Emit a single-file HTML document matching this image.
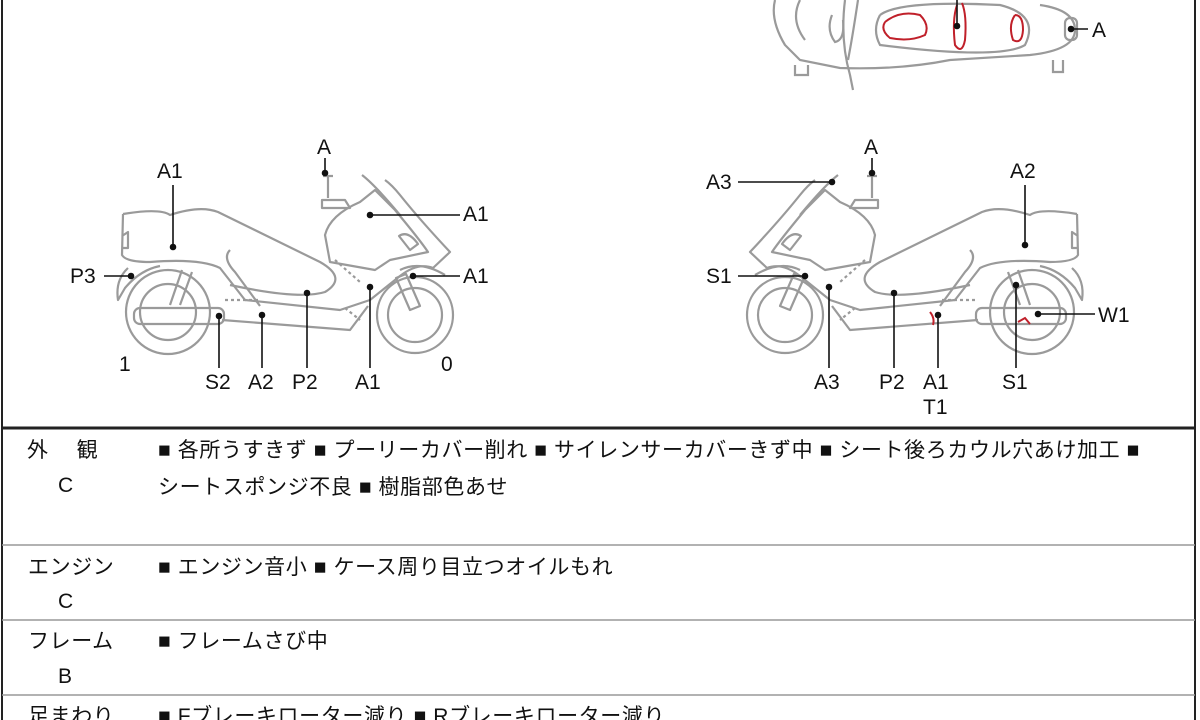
<!DOCTYPE html>
<html><head><meta charset="utf-8"><style>
body{margin:0;background:#fff;}
.wrap{position:relative;width:1200px;height:720px;overflow:hidden;font-family:"Liberation Sans","Noto Sans CJK JP",sans-serif;}
svg{position:absolute;left:0;top:0}
.t{position:absolute;font-size:21px;color:#111;white-space:nowrap;line-height:1}
.j{font-size:21px;letter-spacing:0.6px}
</style></head><body><div class="wrap">
<svg width="1200" height="720" viewBox="0 0 1200 720">
<defs>
<g id="bike" fill="none" stroke="#9a9a9a" stroke-width="2.2" stroke-linejoin="round">
 <circle cx="168" cy="312" r="42"/><circle cx="168" cy="312" r="28"/>
 <circle cx="415" cy="315" r="38"/><circle cx="415" cy="315" r="27"/>
 <rect x="134" y="308" width="90" height="16" rx="6"/>
 <path d="M182 270 L170 305 M192 272 L180 305"/>
 <path d="M123 214 Q160 208 170 215 Q200 205 218 212 L320 262 Q348 278 325 292 Q300 300 230 285"/>
 <path d="M123 214 L122 255 Q126 262 150 262 Q200 258 220 268 L245 300 L340 310 L370 300 L400 276 Q418 262 433 268 L450 252 Q420 220 400 195 Q392 185 385 180"/>
 <path d="M230 250 Q222 258 235 272 L260 306"/>
 <path d="M122 236 L128 232 L128 248 L122 248"/>
 <path d="M128 268 Q115 280 118 300 L125 288 Q140 270 160 266"/>
 <path d="M222 320 L350 330 L368 306"/>
 <path d="M325 235 Q330 215 360 202 L375 190 L395 210 Q420 240 428 252 L390 260 L375 270 L330 262 Z"/>
 <path d="M322 200 L345 200 L350 208 L322 208 Z"/>
 <path d="M328 176 L328 198 M323 176 L333 176"/>
 <path d="M362 175 Q375 185 400 215"/>
 <path d="M396 278 L410 310 L420 306 L406 274 Z"/>
 <path d="M399 236 Q408 230 418 244 L410 250 Z"/>
 <path d="M225 300 L260 300 M335 260 L360 282 M345 308 L360 320" stroke-dasharray="3 3"/>
 <path d="M400 270 Q420 260 445 275"/>
</g>
</defs>
<rect x="2" y="-5" width="1193" height="740" fill="none" stroke="#222" stroke-width="2"/>
<line x1="2" y1="428" x2="1195" y2="428" stroke="#222" stroke-width="3"/>
<line x1="2" y1="545" x2="1195" y2="545" stroke="#999" stroke-width="1.5"/>
<line x1="2" y1="620" x2="1195" y2="620" stroke="#999" stroke-width="1.5"/>
<line x1="2" y1="695" x2="1195" y2="695" stroke="#999" stroke-width="1.5"/>
<use href="#bike"/>
<use href="#bike" transform="translate(1200,0) scale(-1,1)"/>
<g fill="none" stroke="#9a9a9a" stroke-width="2.2">
 <path d="M775 0 Q770 20 785 45 L800 60 L840 68 Q900 70 950 60 L1030 55 Q1075 50 1075 30 Q1075 10 1040 5"/>
 <path d="M800 0 Q790 20 805 40 M832 15 Q826 30 835 42 Q845 40 843 20"/>
 <path d="M845 0 Q840 40 850 75 L853 90 M858 0 Q852 40 848 60"/>
 <path d="M880 15 Q900 0 1000 5 Q1040 15 1025 45 Q1000 60 880 45 Q872 30 880 15"/>
 <path d="M795 65 L795 75 L808 75 L808 65 M1053 60 L1053 72 L1063 72 L1063 60"/>
 <rect x="1065" y="18" width="12" height="22" rx="5"/>
</g>
<g fill="none" stroke="#c0202a" stroke-width="2">
 <path d="M885 22 Q900 10 920 15 Q930 25 925 35 Q910 42 890 38 Q880 30 885 22"/>
 <path d="M957 5 Q952 20 955 45 Q962 55 965 40 Q967 15 962 3"/>
 <path d="M1015 15 Q1008 25 1013 40 Q1022 45 1023 30 Q1023 15 1015 15"/>
 <path d="M930 312 Q935 318 933 325 M1018 322 L1025 318 L1030 324"/>
</g>
<g stroke="#111" stroke-width="1.6" fill="#111">
 <line x1="1071" y1="29" x2="1088" y2="29"/><circle cx="1071" cy="29" r="2.5"/>
 <line x1="957" y1="0" x2="957" y2="26"/><circle cx="957" cy="26" r="2.5"/>
 <line x1="325" y1="158" x2="325" y2="173"/><circle cx="325" cy="173" r="2.5"/>
 <line x1="173" y1="185" x2="173" y2="247"/><circle cx="173" cy="247" r="2.5"/>
 <line x1="370" y1="215" x2="460" y2="215"/><circle cx="370" cy="215" r="2.5"/>
 <line x1="413" y1="276" x2="460" y2="276"/><circle cx="413" cy="276" r="2.5"/>
 <line x1="104" y1="276" x2="131" y2="276"/><circle cx="131" cy="276" r="2.5"/>
 <line x1="219" y1="316" x2="219" y2="368"/><circle cx="219" cy="316" r="2.5"/>
 <line x1="262" y1="315" x2="262" y2="368"/><circle cx="262" cy="315" r="2.5"/>
 <line x1="307" y1="293" x2="307" y2="368"/><circle cx="307" cy="293" r="2.5"/>
 <line x1="370" y1="287" x2="370" y2="368"/><circle cx="370" cy="287" r="2.5"/>
 <line x1="872" y1="158" x2="872" y2="173"/><circle cx="872" cy="173" r="2.5"/>
 <line x1="738" y1="182" x2="832" y2="182"/><circle cx="832" cy="182" r="2.5"/>
 <line x1="1025" y1="185" x2="1025" y2="245"/><circle cx="1025" cy="245" r="2.5"/>
 <line x1="738" y1="276" x2="805" y2="276"/><circle cx="805" cy="276" r="2.5"/>
 <line x1="1038" y1="314" x2="1095" y2="314"/><circle cx="1038" cy="314" r="2.5"/>
 <line x1="829" y1="287" x2="829" y2="368"/><circle cx="829" cy="287" r="2.5"/>
 <line x1="894" y1="293" x2="894" y2="368"/><circle cx="894" cy="293" r="2.5"/>
 <line x1="938" y1="315" x2="938" y2="368"/><circle cx="938" cy="315" r="2.5"/>
 <line x1="1016" y1="285" x2="1016" y2="368"/><circle cx="1016" cy="285" r="2.5"/>
</g>
</svg>
<div class="t" style="left:1092px;top:20px">A</div>
<div class="t" style="left:317px;top:137px">A</div>
<div class="t" style="left:157px;top:161px">A1</div>
<div class="t" style="left:463px;top:204px">A1</div>
<div class="t" style="left:463px;top:266px">A1</div>
<div class="t" style="left:70px;top:266px">P3</div>
<div class="t" style="left:119px;top:354px">1</div>
<div class="t" style="left:441px;top:354px">0</div>
<div class="t" style="left:205px;top:372px">S2</div>
<div class="t" style="left:248px;top:372px">A2</div>
<div class="t" style="left:292px;top:372px">P2</div>
<div class="t" style="left:355px;top:372px">A1</div>
<div class="t" style="left:864px;top:137px">A</div>
<div class="t" style="left:706px;top:172px">A3</div>
<div class="t" style="left:1010px;top:161px">A2</div>
<div class="t" style="left:706px;top:266px">S1</div>
<div class="t" style="left:1098px;top:305px">W1</div>
<div class="t" style="left:814px;top:372px">A3</div>
<div class="t" style="left:879px;top:372px">P2</div>
<div class="t" style="left:923px;top:372px">A1</div>
<div class="t" style="left:923px;top:397px">T1</div>
<div class="t" style="left:1002px;top:372px">S1</div>
<div class="t j" style="left:27px;top:440px">外　 観</div>
<div class="t j" style="left:58px;top:475px">C</div>
<div class="t j" style="left:158px;top:440px">■ 各所うすきず ■ プーリーカバー削れ ■ サイレンサーカバーきず中 ■ シート後ろカウル穴あけ加工 ■</div>
<div class="t j" style="left:158px;top:477px">シートスポンジ不良 ■ 樹脂部色あせ</div>
<div class="t j" style="left:28px;top:557px">エンジン</div>
<div class="t j" style="left:58px;top:591px">C</div>
<div class="t j" style="left:158px;top:557px">■ エンジン音小 ■ ケース周り目立つオイルもれ</div>
<div class="t j" style="left:28px;top:631px">フレーム</div>
<div class="t j" style="left:58px;top:666px">B</div>
<div class="t j" style="left:158px;top:631px">■ フレームさび中</div>
<div class="t j" style="left:28px;top:706px">足まわり</div>
<div class="t j" style="left:158px;top:706px">■ Fブレーキローター減り ■ Rブレーキローター減り</div>
</div></body></html>
